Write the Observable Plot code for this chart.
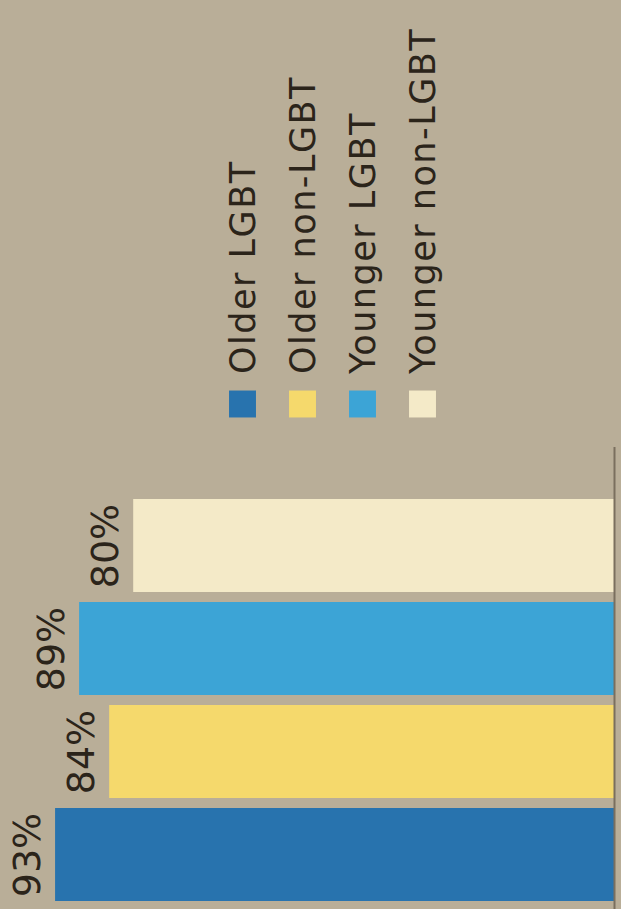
<!DOCTYPE html>
<html>
<head>
<meta charset="utf-8">
<script src="https://cdn.jsdelivr.net/npm/d3@7"></script>
<script src="https://cdn.jsdelivr.net/npm/@observablehq/plot@0.6"></script>
<style>
  html, body { margin: 0; padding: 0; background: #b9ae98; }
  #chart svg { display: block; }
</style>
</head>
<body>
<div id="chart"></div>
<script>
const groups = ["Older LGBT", "Older non-LGBT", "Younger LGBT", "Younger non-LGBT"];
const values = [93, 84, 89, 80];
const colors = ["#2873ae", "#f5d96c", "#3ca4d6", "#f4eac8"];
const labels = values.map(v => v + "%");

const data = groups.map((g, i) => ({group: g, value: values[i], label: labels[i]}));
const ink = "#2b241a";
const bg = "#b9ae98";

const legend = Plot.plot({
  width: 621,
  height: 440,
  marginTop: 0,
  marginBottom: 36.5,
  marginLeft: 0,
  marginRight: 0,
  style: {background: bg, fontFamily: "DejaVu Sans", letterSpacing: "1.5px"},
  x: {type: "point", domain: groups, range: [241, 422], padding: 0, axis: null},
  color: {domain: groups, range: colors},
  marks: [
    Plot.dot(groups, {x: d => d, fill: d => d, symbol: "square", r: 15.2, frameAnchor: "bottom", stroke: "none"}),
    Plot.text(groups, {x: d => d, text: d => d, frameAnchor: "bottom", rotate: -90,
      textAnchor: "start", lineAnchor: "bottom", dx: 12, dy: -30, fontSize: 35, fill: ink})
  ]
});

const chart = Plot.plot({
  width: 621,
  height: 469,
  marginTop: 7,
  marginBottom: 0,
  marginLeft: 0,
  marginRight: 0,
  style: {background: bg, fontFamily: "DejaVu Sans"},
  x: {domain: [0, 100], range: [614, 13], axis: null},
  y: {type: "band", domain: [...groups].reverse(), range: [53, 466], paddingInner: 0.1, paddingOuter: 0.05, axis: null},
  color: {domain: groups, range: colors},
  marks: [
    Plot.barX(data, {x: "value", y: "group", fill: "group"}),
    Plot.ruleX([0], {stroke: "#7a6f5e", strokeWidth: 2}),
    Plot.text(data, {x: "value", y: "group", text: "label", rotate: -90, textAnchor: "middle",
      lineAnchor: "bottom", dx: -16, fontSize: 38, fill: ink})
  ]
});

document.getElementById("chart").append(legend, chart);
</script>
</body>
</html>
